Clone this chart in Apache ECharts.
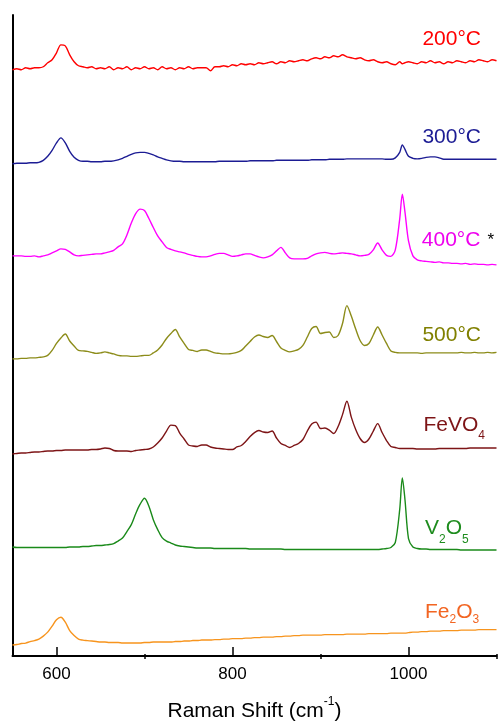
<!DOCTYPE html>
<html>
<head>
<meta charset="utf-8">
<script src="https://cdn.jsdelivr.net/npm/echarts@6/dist/echarts.min.js"></script>
<style>
html, body { margin: 0; padding: 0; background: #fff; }
#chart { width: 498px; height: 727px; }
</style>
</head>
<body>
<div id="chart"></div>
<script>
// Raman shift grid, cm-1 (denser around the sharp 994 band)
const shift = [
    550, 555, 560, 565, 570, 575, 580, 585, 590, 595,
    600, 605, 610, 615, 620, 625, 630, 635, 640, 645,
    650, 655, 660, 665, 670, 675, 680, 685, 690, 695,
    700, 705, 710, 715, 720, 725, 730, 735, 740, 745,
    750, 755, 760, 765, 770, 775, 780, 785, 790, 795,
    800, 805, 810, 815, 820, 825, 830, 835, 840, 845,
    850, 855, 860, 865, 870, 875, 880, 885, 890, 895,
    900, 905, 910, 915, 920, 925, 930, 935, 940, 945,
    950, 955, 960, 965, 970, 975, 980, 985, 990, 993, 996,
    1000, 1005, 1010, 1015, 1020, 1025, 1030, 1035, 1040, 1045,
    1050, 1055, 1060, 1065, 1070, 1075, 1080, 1085, 1090, 1095,
    1100
];

// intensities (a.u.), each above its own baseline
const spec200 = [
    2, 3, 2, 4, 3, 4, 4, 5, 9, 12,
    19, 27, 26, 17, 10, 6, 5, 4, 5, 3,
    4, 3, 5, 2, 4, 3, 5, 2, 4, 3,
    5, 3, 4, 2, 5, 3, 4, 2, 4, 3,
    5, 3, 4, 4, 4, 1, 5, 5, 6, 5,
    7, 6, 8, 7, 8, 7, 9, 8, 9, 10,
    8, 10, 9, 11, 10, 11, 12, 11, 13, 14,
    13, 15, 14, 16, 15, 17, 15, 14, 13, 14,
    12, 11, 12, 10, 9, 10, 8, 7, 10, 8, 9,
    10, 9, 8, 10, 9, 11, 9, 10, 8, 10,
    9, 11, 10, 9, 11, 10, 12, 11, 10, 12,
    11
];
const spec300 = [
    0.5, 1, 1, 1, 1.5, 1.5, 2, 4, 8, 14,
    21.5, 26.5, 21.5, 13, 7, 4, 3, 3, 2.5, 2.5,
    2.5, 3, 3, 3.5, 4.5, 6, 8, 10, 11.5, 12,
    12, 11, 9.5, 7.5, 6, 4.5, 3.5, 3, 3, 2.5,
    2.5, 2.5, 2.5, 2.5, 2.5, 2.5, 2.5, 3, 3, 3,
    3, 3, 3, 3, 3.5, 3.5, 3.5, 3.5, 3.5, 3.5,
    4, 4, 4, 4, 4, 4, 4, 4, 4.5, 4.5,
    4.5, 4.5, 5, 5, 5, 5, 5.5, 5.5, 5.5, 5.5,
    5.5, 5.5, 5.5, 5.5, 5.5, 5, 5, 6.5, 12, 19.5, 15,
    8, 6, 5.5, 6, 7, 7.5, 7.5, 6.5, 5, 5,
    5, 5, 5, 5, 5, 5, 5, 5, 5, 5,
    5
];
const spec400 = [
    10, 10, 10, 9.5, 9.5, 10, 9, 10, 11, 13,
    15, 17, 16.5, 14, 11, 10, 10.5, 11, 11.5, 12,
    12, 13, 14, 15.5, 19, 22, 31, 43, 52.5, 57,
    55.5, 47.5, 38.5, 30, 24, 18.5, 16.5, 15, 14, 13,
    11.5, 10.5, 9.5, 9, 9, 10, 11.5, 12.5, 12.5, 11,
    9.5, 10, 11, 12, 12, 10.5, 9, 8, 9, 11,
    15, 18.5, 13, 8, 7, 7, 7, 7.5, 10, 12,
    13, 13.5, 12.5, 12, 12.5, 13, 12.5, 12, 11, 10,
    10.5, 11.5, 16, 23, 16, 10.5, 9.5, 16, 47, 72, 54,
    25, 10, 6, 5, 4.5, 4, 3.5, 4, 3, 3,
    2.5, 2.5, 2, 2.5, 1.5, 2, 1.5, 1.5, 1, 1.5,
    1
];
const spec500 = [
    0.5, 0.5, 1, 1, 1.5, 1.5, 2, 2.5, 4, 9,
    16, 21.5, 25.5, 18.5, 13.5, 9, 8.5, 8, 7, 6,
    6.5, 7.5, 6.5, 5.5, 4, 3.5, 3.5, 3, 3, 3.5,
    4, 4, 6.5, 9.5, 14.5, 21, 26, 30, 22.5, 16,
    10, 9, 8, 9.5, 9.5, 8, 6.5, 6, 5.5, 5.5,
    6, 7, 9, 13.5, 18, 22.5, 24.5, 23, 22, 24,
    18, 11.5, 9, 7.5, 8.5, 10, 14, 22.5, 31, 33,
    26, 27, 27.5, 22, 24, 36, 54, 43.5, 30.5, 19,
    14, 16, 24.5, 32.5, 24.5, 16, 8.5, 7, 6.5, 6.5, 6.5,
    6.5, 6.5, 6.5, 6, 6.5, 6.5, 6.5, 6.5, 6.5, 6.5,
    6.5, 6.5, 7, 6.5, 6.5, 7, 6.5, 6.5, 7, 6.5,
    7
];
const specFeVO4 = [
    1, 1.5, 2, 2, 2.5, 3, 3, 3.5, 4, 4,
    4.5, 4.5, 5, 5, 5, 5, 5, 5, 5.5, 5.5,
    6, 7, 6.5, 4.5, 4, 4, 4, 3.5, 4.5, 5,
    5.5, 6, 8, 12, 17, 24, 30, 29.5, 22, 16,
    10, 9, 8.5, 10, 10, 8, 7, 6.5, 6, 5.5,
    5.5, 8, 9.5, 13.5, 18.5, 22.5, 24.5, 23, 22.5, 24,
    17, 11.5, 9.5, 7.5, 9.5, 11.5, 15.5, 24, 31, 33,
    26.5, 27, 25, 21.5, 28.5, 40.5, 54, 38, 25.5, 16.5,
    12.5, 16, 24, 31.5, 22.5, 14.5, 8.5, 7.5, 6.5, 6.5, 6.5,
    6.5, 6.5, 6, 6, 6, 6, 6, 6.5, 6.5, 6.5,
    6.5, 6.5, 6.5, 6.5, 7, 7, 7, 7, 7, 7,
    7
];
const specV2O5 = [
    3.5, 3, 3, 3, 3, 3, 3, 3, 3, 3,
    3, 3, 3, 3.5, 3.5, 3.5, 4, 4, 4.5, 5,
    5, 5.5, 6, 7, 9.5, 12.5, 19, 26, 37, 46.5,
    52.5, 44.5, 31, 21, 13, 9.5, 7.5, 5.5, 4.5, 4,
    3.5, 3, 2.5, 2.5, 2.5, 2.5, 2, 2, 2, 2,
    2, 2, 2, 2, 1.5, 1.5, 1.5, 1.5, 1.5, 1.5,
    1.5, 1.5, 1, 1, 1, 1, 1, 1, 1, 1,
    1, 1, 1, 1, 1, 1, 1, 1, 1, 1,
    1, 1, 1, 1, 1.5, 2, 3, 8, 41, 73, 51,
    12, 3.5, 2, 1.5, 1.5, 1, 1, 1, 1, 1,
    1, 1, 0.5, 0.5, 0.5, 0.5, 0.5, 0.5, 0.5, 0.5,
    0.5
];
const specFe2O3 = [
    1, 1.5, 2.5, 3, 4.5, 5.5, 7, 10, 14, 20,
    26.5, 29, 24, 15.5, 10.5, 7, 6, 5.5, 5, 4.5,
    4, 4, 3.5, 3.5, 3.5, 3, 3, 3, 3, 3,
    3.5, 3.5, 4, 4, 4, 4, 4, 4.5, 4.5, 5,
    5, 5.5, 5.5, 6, 6, 6, 6.5, 6.5, 7, 7,
    7.5, 7.5, 7.5, 8, 8, 8.5, 8.5, 9, 9, 9,
    9.5, 9.5, 10, 10, 10.5, 10.5, 11, 11, 11, 11,
    11, 11.5, 11.5, 11.5, 11.5, 11.5, 12, 12, 12, 12,
    12, 12.5, 12.5, 12.5, 12.5, 12.5, 13, 13, 13, 13, 13,
    13.5, 14, 14, 14.5, 14.5, 15, 15, 15, 15.5, 15.5,
    15.5, 15.5, 16, 16, 16, 16, 16.5, 16.5, 16.5, 16.5,
    16.5
];

// vertical stacking offset of each trace
const offsets = [587, 494, 392, 298, 202, 106, 10];
const names = ['200°C', '300°C', '400°C', '500°C', 'FeVO4', 'V2O5', 'Fe2O3'];
const majorTicks = [600, 800, 1000];
const minorTicks = [700, 900, 1100];

const spectra = [spec200, spec300, spec400, spec500, specFeVO4, specV2O5, specFe2O3];
const lineColors = ['#ff0000', '#1c1c94', '#ff00ff', '#8c8c1a', '#7d1416', '#1a8a1a', '#f7941d'];
const labelColors = ['#ff0000', '#1c1c94', '#ee00ee', '#808000', '#7d1416', '#1e8c1e', '#f26522'];

const font = '"Liberation Sans", Arial, sans-serif';
const chart = echarts.init(document.getElementById('chart'));

function label(text, x, y, align, color, subPad) {
    return {
        type: 'text',
        x: x,
        y: y,
        silent: true,
        style: {
            text: text,
            textAlign: align,
            align: align,
            textVerticalAlign: 'top',
            verticalAlign: 'top',
            fill: color,
            rich: {
                m: { fontSize: 21, lineHeight: 21, fontFamily: font, fill: color, verticalAlign: 'top' },
                s: { fontSize: 12, lineHeight: 12, fontFamily: font, fill: color, verticalAlign: 'top', padding: [subPad || 0, 0, 0, 0] },
                k: { fontSize: 17, lineHeight: 17, fontFamily: font, fill: '#000', verticalAlign: 'top', padding: [2, 0, 0, 7] }
            }
        }
    };
}

const grid = { left: 12.5, right: 1.5, top: 15, bottom: 68 };

const option = {
    animation: false,
    backgroundColor: '#fff',
    grid: [grid, grid],
    xAxis: [
        {
            type: 'value',
            gridIndex: 0,
            min: 550,
            max: 1100,
            name: '{a|Raman Shift (cm}{b|-1}{a|)}',
            nameLocation: 'middle',
            nameGap: 40,
            nameTextStyle: {
                rich: {
                    a: { fontSize: 21, lineHeight: 21, fontFamily: font, color: '#000', verticalAlign: 'top', padding: [5, 0, 0, 0] },
                    b: { fontSize: 12, lineHeight: 12, fontFamily: font, color: '#000', verticalAlign: 'top' }
                }
            },
            axisLine: { onZero: false, lineStyle: { color: '#000', width: 2 } },
            axisTick: { inside: true, length: 9, customValues: majorTicks, lineStyle: { color: '#000', width: 1.5 } },
            axisLabel: {
                customValues: majorTicks,
                margin: 10,
                fontSize: 17,
                fontFamily: font,
                color: '#000',
                formatter: function (v) { return String(v); }
            },
            splitLine: { show: false }
        },
        {
            // minor ticks only
            type: 'value',
            gridIndex: 1,
            min: 550,
            max: 1100,
            position: 'bottom',
            axisLine: { show: false, onZero: false },
            axisTick: { inside: true, length: 5, customValues: minorTicks, lineStyle: { color: '#000', width: 1.5 } },
            axisLabel: { show: false },
            splitLine: { show: false }
        }
    ],
    yAxis: [
        {
            type: 'value',
            gridIndex: 0,
            min: 0,
            max: 644,
            axisLine: { show: true, onZero: false, lineStyle: { color: '#000', width: 2 } },
            axisTick: { show: false },
            axisLabel: { show: false },
            splitLine: { show: false }
        },
        {
            type: 'value',
            gridIndex: 1,
            min: 0,
            max: 644,
            show: false
        }
    ],
    series: spectra.map(function (s, i) {
        return {
            name: names[i],
            type: 'line',
            xAxisIndex: 0,
            yAxisIndex: 0,
            showSymbol: false,
            symbol: 'none',
            silent: true,
            smooth: 0.3,
            data: shift.map(function (x, j) { return [x, offsets[i] + s[j]]; }),
            lineStyle: { color: lineColors[i], width: 1.4 },
            itemStyle: { color: lineColors[i] }
        };
    }),
    graphic: [
        label('{m|200°C}', 481, 29, 'right', labelColors[0]),
        label('{m|300°C}', 481, 127, 'right', labelColors[1]),
        label('{m|400°C}{k|*}', 494, 230, 'right', labelColors[2]),
        label('{m|500°C}', 481, 325, 'right', labelColors[3]),
        label('{m|FeVO}{s|4}', 423.5, 415, 'left', labelColors[4], 15),
        label('{m|V}{s|2}{m|O}{s|5}', 425, 518, 'left', labelColors[5], 16),
        label('{m|Fe}{s|2}{m|O}{s|3}', 425, 602, 'left', labelColors[6], 12)
    ]
};

chart.setOption(option);
</script>
</body>
</html>
